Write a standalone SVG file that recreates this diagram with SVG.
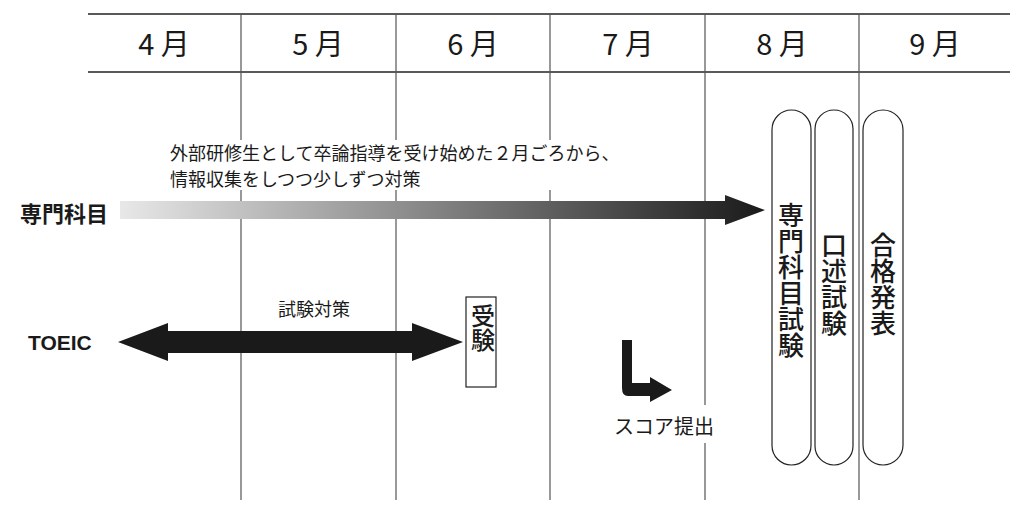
<svg xmlns="http://www.w3.org/2000/svg" width="1024" height="515" viewBox="0 0 1024 515">
<style>
text{font-family:"Noto Sans CJK JP","Noto Sans",sans-serif;fill:#1a1a1a}
.h{font-size:29px;text-anchor:middle}
.s{font-size:18px}
.v{font-size:26px;writing-mode:vertical-rl;text-orientation:upright;font-weight:500}
.ln{stroke:#555;stroke-width:1.2;fill:none}
.pill{fill:#fff;stroke:#222;stroke-width:1.2}
</style>
<defs>
<linearGradient id="g" x1="0" x2="1"><stop offset="0" stop-color="#e8e8e8"/><stop offset="1" stop-color="#1a1a1a"/></linearGradient>
</defs>
<rect width="1024" height="515" fill="#fff"/>
<g id="grid">
<line class="ln" x1="88" y1="14" x2="1010" y2="14" style="stroke:#222;stroke-width:1.5"/>
<line class="ln" x1="88" y1="72" x2="1010" y2="72" style="stroke:#222;stroke-width:1.5"/>
<path class="ln" d="M241 14V500M396 14V500M550 14V500M705 14V500M859 14V500"/>
<text class="h" x="164" y="55">4 月</text>
<text class="h" x="318" y="55">5 月</text>
<text class="h" x="473" y="55">6 月</text>
<text class="h" x="628" y="55">7 月</text>
<text class="h" x="782" y="55">8 月</text>
<text class="h" x="935" y="55">9 月</text>
</g>
<g id="connectors">
<rect x="168" y="140" width="530" height="50" fill="#fff"/>
<path d="M120 201H725V195L765 210L725 225V219H120Z" fill="url(#g)"/>
<path d="M118 342L168 323V331H412V323L463 342L412 361V353H168V361Z" fill="#1a1a1a"/>
<path d="M622 340H632V383H650V377L672 390L650 402V396H628Q622 396 622 388Z" fill="#1a1a1a"/>
</g>
<g id="senmon"><text x="20" y="222" style="font-size:22px;font-weight:bold">専門科目</text>
<text class="s" x="170" y="160">外部研修生として卒論指導を受け始めた２月ごろから、</text>
<text class="s" x="170" y="186">情報収集をしつつ少しずつ対策</text></g>
<g id="toeic"><text x="28" y="350" style="font-size:21px;font-weight:bold;font-family:'Liberation Sans',sans-serif">TOEIC</text>
<rect x="243" y="297" width="150" height="26" fill="#fff"/>
<text class="s" x="278" y="316">試験対策</text></g>
<g id="juken"><rect x="466" y="297" width="30" height="90" fill="#fff" stroke="#222" stroke-width="1.2"/>
<text class="v" x="483" y="304" style="font-size:24px">受験</text></g>
<g id="score"><rect x="612" y="405" width="125" height="38" fill="#fff"/><text x="614" y="434" style="font-size:20px">スコア提出</text></g>
<g id="p1"><rect class="pill" x="772" y="110" width="39" height="355" rx="19.5"/><text class="v" x="791" y="202">専門科目試験</text></g>
<g id="p2"><rect class="pill" x="815" y="110" width="38" height="355" rx="19"/><text class="v" x="834" y="232">口述試験</text></g>
<g id="p3"><rect class="pill" x="863" y="110" width="40" height="355" rx="20"/><text class="v" x="883" y="232">合格発表</text></g>
</svg>
